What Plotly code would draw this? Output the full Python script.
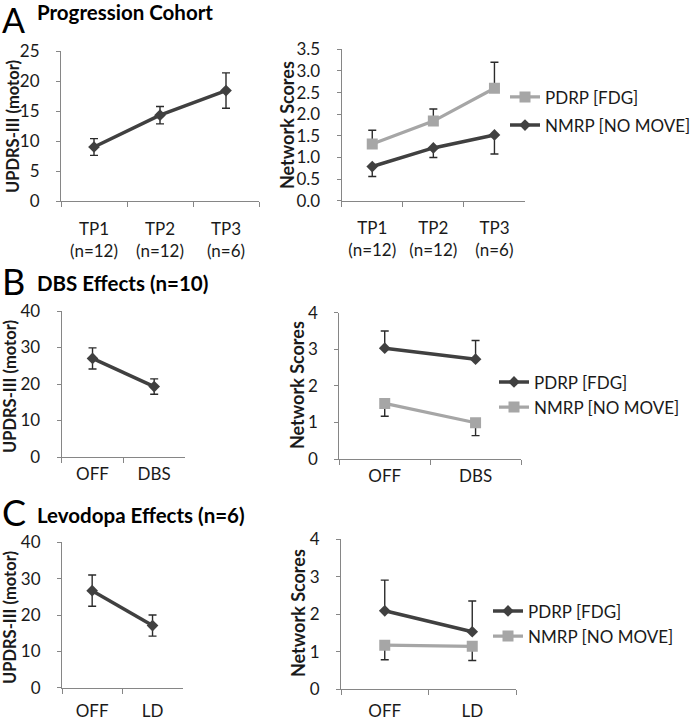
import plotly.graph_objects as go

W, H = 691, 720

# ---------------- data ----------------
tp_cats = ["TP1<br>(n=12)", "TP2<br>(n=12)", "TP3<br>(n=6)"]
a_updrs = [9.0, 14.3, 18.4]
a_updrs_err = [1.4, 1.45, 2.95]
a_pdrp = [1.31, 1.84, 2.60]
a_pdrp_err = [0.32, 0.28, 0.60]
a_nmrp = [0.79, 1.22, 1.52]
a_nmrp_err = [0.23, 0.22, 0.44]

dbs_cats = ["OFF", "DBS"]
b_updrs = [27.0, 19.3]
b_updrs_err = [2.9, 2.1]
b_pdrp = [3.03, 2.73]
b_pdrp_err = [0.47, 0.51]
b_nmrp = [1.52, 0.99]
b_nmrp_err = [0.35, 0.35]

ld_cats = ["OFF", "LD"]
c_updrs = [26.7, 17.1]
c_updrs_err = [4.3, 2.9]
c_pdrp = [2.09, 1.53]
c_pdrp_err = [0.82, 0.82]
c_nmrp = [1.17, 1.14]
c_nmrp_err = [0.39, 0.38]

# ---------------- styles ----------------
DARK = "#404040"
LIGHT = "#a6a6a6"
ERR = "#2b2b2b"
AXIS = "#868686"
FONT = "Lato"
TXT = "#1a1a1a"

def px_x(x):
    return x / W

def px_y(y):
    return 1 - y / H

fig = go.Figure()

def err(vals, up=True, sym=False):
    zeros = [0] * len(vals)
    if sym:
        return dict(type="data", array=vals, symmetric=True, color=ERR, thickness=1.4, width=4)
    if up:
        return dict(type="data", array=vals, arrayminus=zeros, symmetric=False, color=ERR, thickness=1.4, width=4)
    return dict(type="data", array=zeros, arrayminus=vals, symmetric=False, color=ERR, thickness=1.4, width=4)

def dark_trace(x, y, e, xa, ya, name=None, legend=None, up=True, sym=False, group=None):
    return go.Scatter(x=x, y=y, mode="lines+markers", xaxis=xa, yaxis=ya,
                      line=dict(color=DARK, width=3.5),
                      marker=dict(symbol="diamond", size=9, color=DARK),
                      error_y=err(e, up, sym), name=name, legendgroup=group,
                      showlegend=name is not None, legend=legend)

def light_trace(x, y, e, xa, ya, name=None, legend=None, up=True, group=None):
    return go.Scatter(x=x, y=y, mode="lines+markers", xaxis=xa, yaxis=ya,
                      line=dict(color=LIGHT, width=3.2),
                      marker=dict(symbol="square", size=11, color=LIGHT),
                      error_y=err(e, up), name=name, legendgroup=group,
                      showlegend=name is not None, legend=legend)

# Panel A
fig.add_trace(dark_trace(tp_cats, a_updrs, a_updrs_err, "x", "y", sym=True))
fig.add_trace(light_trace(tp_cats, a_pdrp, a_pdrp_err, "x2", "y2", name="PDRP [FDG]", legend="legend", up=True, group="a1"))
fig.add_trace(dark_trace(tp_cats, a_nmrp, a_nmrp_err, "x2", "y2", name="NMRP [NO MOVE]", legend="legend", up=False, group="a2"))
# Panel B
fig.add_trace(dark_trace(dbs_cats, b_updrs, b_updrs_err, "x3", "y3", sym=True))
fig.add_trace(dark_trace(dbs_cats, b_pdrp, b_pdrp_err, "x4", "y4", name="PDRP [FDG]", legend="legend2", up=True))
fig.add_trace(light_trace(dbs_cats, b_nmrp, b_nmrp_err, "x4", "y4", name="NMRP [NO MOVE]", legend="legend2", up=False))
# Panel C
fig.add_trace(dark_trace(ld_cats, c_updrs, c_updrs_err, "x5", "y5", sym=True))
fig.add_trace(dark_trace(ld_cats, c_pdrp, c_pdrp_err, "x6", "y6", name="PDRP [FDG]", legend="legend3", up=True))
fig.add_trace(light_trace(ld_cats, c_nmrp, c_nmrp_err, "x6", "y6", name="NMRP [NO MOVE]", legend="legend3", up=False))

tickfont = dict(family=FONT, size=17, color=TXT)

def xaxis(dom, anchor, ncat, standoff):
    return dict(domain=dom, anchor=anchor, type="category", range=[-0.5, ncat - 0.5],
                showline=True, linecolor=AXIS, linewidth=1.2, ticks="outside",
                tickson="boundaries", ticklen=5, tickcolor=AXIS, tickwidth=1.2,
                showgrid=False, zeroline=False, tickfont=tickfont, automargin=False,
                ticklabelstandoff=standoff, fixedrange=True)

def yaxis(dom, anchor, rng, dtick, fmt=None):
    d = dict(domain=dom, anchor=anchor, range=rng, dtick=dtick, tick0=0,
             showline=True, linecolor=AXIS, linewidth=1.2, ticks="outside",
             ticklen=4, tickcolor=AXIS, tickwidth=1.2, showgrid=False, automargin=False,
             zeroline=False, tickfont=tickfont, ticklabelstandoff=13, fixedrange=True)
    if fmt:
        d["tickformat"] = fmt
    return d

fig.update_layout(
    xaxis=xaxis([px_x(61), px_x(259)], "y", 3, 12),
    yaxis=yaxis([px_y(201), px_y(51)], "x", [0, 25], 5),
    xaxis2=xaxis([px_x(341.7), px_x(525)], "y2", 3, 12),
    yaxis2=yaxis([px_y(200.7), px_y(49.3)], "x2", [0, 3.5], 0.5, ".1f"),
    xaxis3=xaxis([px_x(61.7), px_x(185)], "y3", 2, 1),
    yaxis3=yaxis([px_y(457), px_y(311)], "x3", [0, 40], 10),
    xaxis4=xaxis([px_x(339.3), px_x(521)], "y4", 2, 1),
    yaxis4=yaxis([px_y(459), px_y(312.7)], "x4", [0, 4], 1),
    xaxis5=xaxis([px_x(62), px_x(182.7)], "y5", 2, 8),
    yaxis5=yaxis([px_y(687.7), px_y(542.3)], "x5", [0, 40], 10),
    xaxis6=xaxis([px_x(341), px_x(516)], "y6", 2, 6),
    yaxis6=yaxis([px_y(689), px_y(539.3)], "x6", [0, 4], 1),
)

legend_common = dict(font=dict(family=FONT, size=17, color=TXT), bgcolor="rgba(0,0,0,0)",
                     borderwidth=0, xanchor="left", yanchor="middle", itemwidth=30)
fig.update_layout(
    legend=dict(x=px_x(505), y=px_y(111.4), tracegroupgap=3, **legend_common),
    legend2=dict(x=px_x(494), y=px_y(394.9), **legend_common),
    legend3=dict(x=px_x(488), y=px_y(623.9), **legend_common),
)

ann = []
def ylabel(text, x, y, size):
    ann.append(dict(text=f"<b>{text}</b>", x=px_x(x), y=px_y(y), xref="paper", yref="paper",
                    textangle=-90, showarrow=False, xanchor="center", yanchor="middle",
                    font=dict(family=FONT, size=size, color=TXT)))

ylabel("UPDRS-III (motor)", 13, 127, 16.5)
ylabel("Network Scores", 287.5, 125.5, 18)
ylabel("UPDRS-III (motor)", 10, 387, 16.5)
ylabel("Network Scores", 297, 385, 18)
ylabel("UPDRS-III (motor)", 10, 618, 16.5)
ylabel("Network Scores", 298, 613, 18)

def panel(letter, title, ly, ty, size=36):
    ann.append(dict(text=letter, x=px_x(0), y=px_y(ly), xref="paper", yref="paper",
                    showarrow=False, xanchor="left", yanchor="middle",
                    font=dict(family=FONT, size=size, color="#000000")))
    ann.append(dict(text=f"<b>{title}</b>", x=px_x(35), y=px_y(ty), xref="paper", yref="paper",
                    showarrow=False, xanchor="left", yanchor="middle",
                    font=dict(family=FONT, size=20.5, color="#000000")))

panel("A", "Progression Cohort", 19, 12, size=34)
panel("B", "DBS Effects (n=10)", 281, 283)
panel("C", "Levodopa Effects (n=6)", 512, 515)

fig.update_layout(
    width=W, height=H, margin=dict(l=0, r=0, t=0, b=0, autoexpand=False),
    paper_bgcolor="white", plot_bgcolor="white",
    annotations=ann, showlegend=True,
)

fig.write_html("out.html", config={"displayModeBar": False},
               post_script="document.body.style.margin='0';document.body.style.overflow='hidden';")
